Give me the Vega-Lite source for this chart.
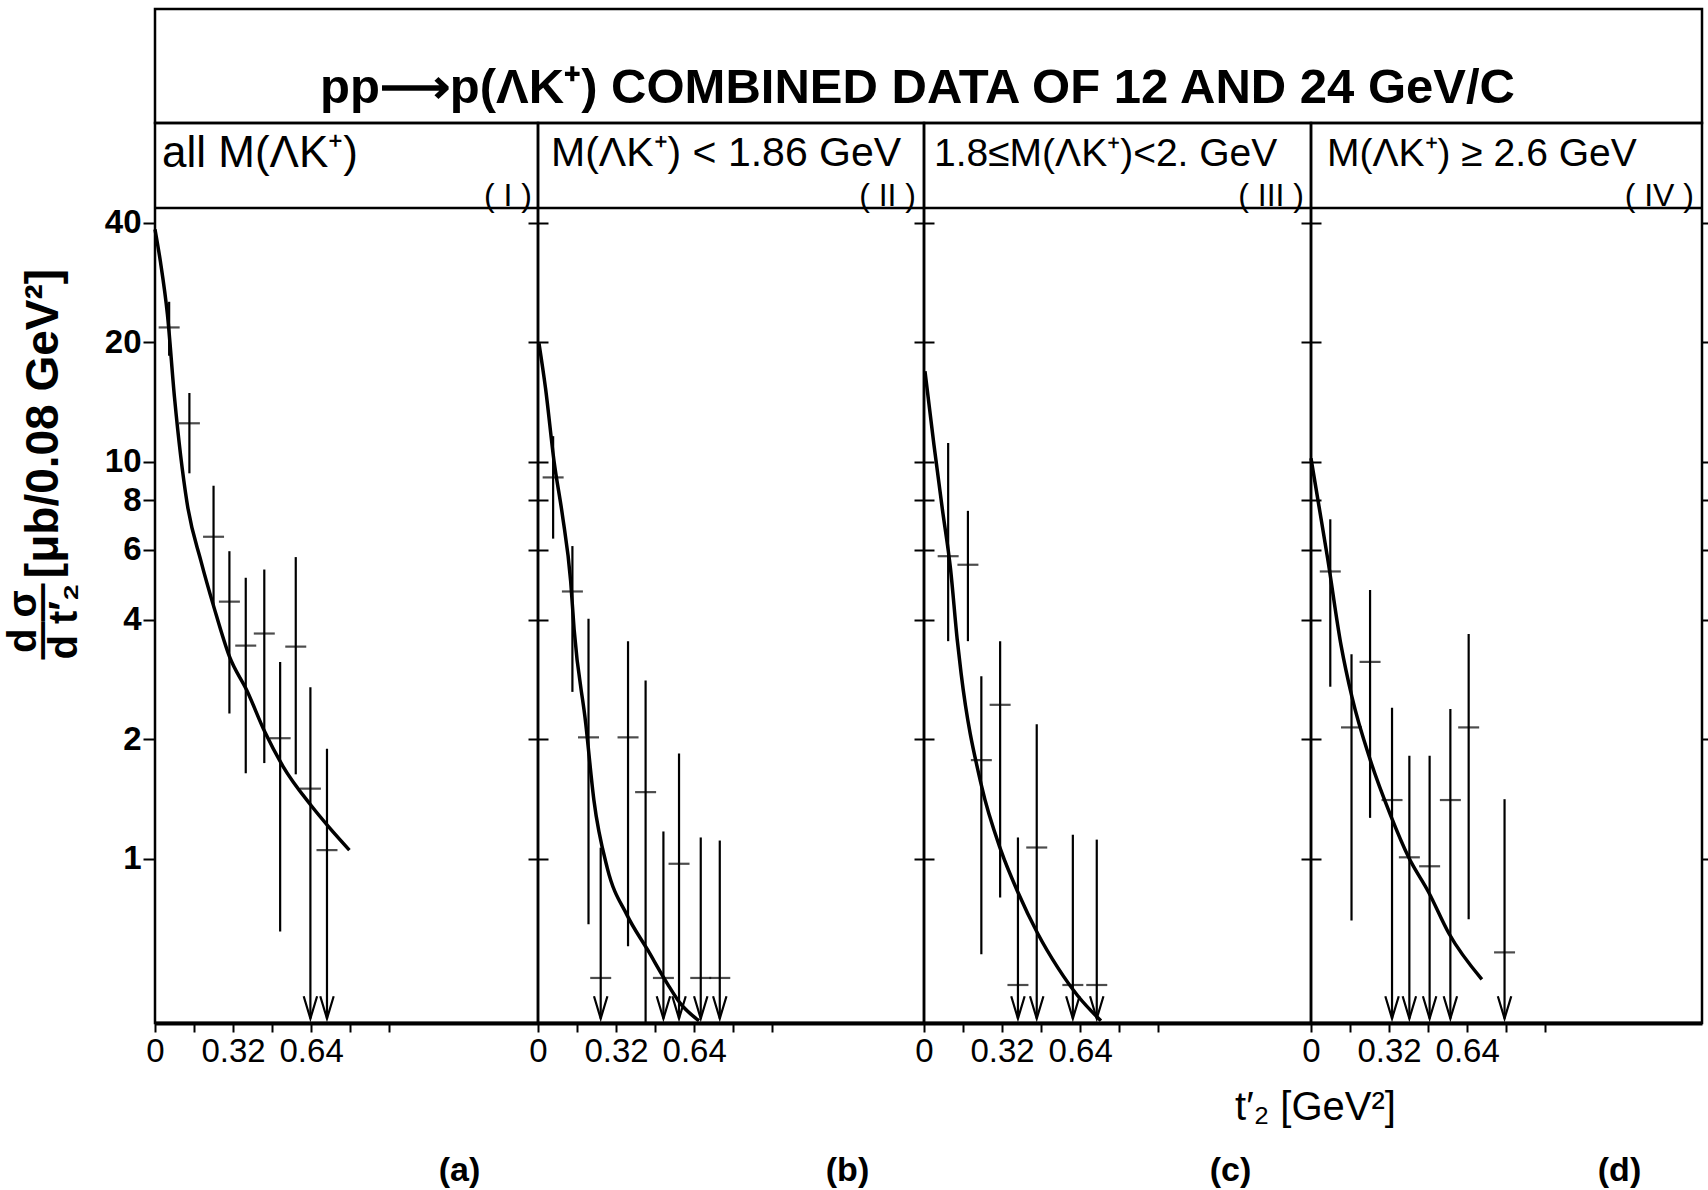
{
  "$schema": "https://vega.github.io/schema/vega-lite/v6.json",
  "background": "white",
  "padding": {"left": 1, "top": 7, "right": 0, "bottom": 0},
  "config": {
    "font": "Liberation Sans",
    "axis": {"labelColor": "black", "titleColor": "black", "tickColor": "black", "domainColor": "black", "grid": false},
    "text": {"color": "black"}
  },
  "datasets": {
    "points": [
      {"panel": "a", "t": 0.058, "val": 21.8, "lo": 18.5, "hi": 25.3, "limit": false},
      {"panel": "a", "t": 0.141, "val": 12.5, "lo": 9.35, "hi": 14.9, "limit": false},
      {"panel": "a", "t": 0.240, "val": 6.47, "lo": 4.3, "hi": 8.7, "limit": false},
      {"panel": "a", "t": 0.305, "val": 4.44, "lo": 2.32, "hi": 5.95, "limit": false},
      {"panel": "a", "t": 0.372, "val": 3.44, "lo": 1.64, "hi": 5.1, "limit": false},
      {"panel": "a", "t": 0.448, "val": 3.69, "lo": 1.74, "hi": 5.35, "limit": false},
      {"panel": "a", "t": 0.513, "val": 2.01, "lo": 0.655, "hi": 3.13, "limit": false},
      {"panel": "a", "t": 0.577, "val": 3.42, "lo": 1.63, "hi": 5.75, "limit": false},
      {"panel": "a", "t": 0.637, "val": 1.50, "lo": null, "hi": 2.70, "limit": true},
      {"panel": "a", "t": 0.705, "val": 1.05, "lo": null, "hi": 1.89, "limit": true},
      {"panel": "b", "t": 0.062, "val": 9.13, "lo": 6.4, "hi": 11.6, "limit": false},
      {"panel": "b", "t": 0.141, "val": 4.71, "lo": 2.63, "hi": 6.13, "limit": false},
      {"panel": "b", "t": 0.207, "val": 2.02, "lo": 0.683, "hi": 4.02, "limit": false},
      {"panel": "b", "t": 0.257, "val": 0.50, "lo": null, "hi": 1.065, "limit": true},
      {"panel": "b", "t": 0.369, "val": 2.02, "lo": 0.601, "hi": 3.53, "limit": false},
      {"panel": "b", "t": 0.441, "val": 1.47, "lo": 0.3, "hi": 2.81, "limit": false},
      {"panel": "b", "t": 0.514, "val": 0.50, "lo": null, "hi": 1.17, "limit": true},
      {"panel": "b", "t": 0.578, "val": 0.97, "lo": null, "hi": 1.84, "limit": true},
      {"panel": "b", "t": 0.667, "val": 0.50, "lo": null, "hi": 1.13, "limit": true},
      {"panel": "b", "t": 0.745, "val": 0.50, "lo": null, "hi": 1.11, "limit": true},
      {"panel": "c", "t": 0.099, "val": 5.78, "lo": 3.53, "hi": 11.15, "limit": false},
      {"panel": "c", "t": 0.180, "val": 5.5, "lo": 3.53, "hi": 7.52, "limit": false},
      {"panel": "c", "t": 0.235, "val": 1.77, "lo": 0.574, "hi": 2.88, "limit": false},
      {"panel": "c", "t": 0.312, "val": 2.44, "lo": 0.798, "hi": 3.53, "limit": false},
      {"panel": "c", "t": 0.385, "val": 0.48, "lo": null, "hi": 1.13, "limit": true},
      {"panel": "c", "t": 0.462, "val": 1.066, "lo": null, "hi": 2.18, "limit": true},
      {"panel": "c", "t": 0.610, "val": 0.48, "lo": null, "hi": 1.148, "limit": true},
      {"panel": "c", "t": 0.708, "val": 0.48, "lo": null, "hi": 1.116, "limit": true},
      {"panel": "d", "t": 0.079, "val": 5.29, "lo": 2.71, "hi": 7.16, "limit": false},
      {"panel": "d", "t": 0.166, "val": 2.14, "lo": 0.698, "hi": 3.27, "limit": false},
      {"panel": "d", "t": 0.242, "val": 3.13, "lo": 1.266, "hi": 4.75, "limit": false},
      {"panel": "d", "t": 0.332, "val": 1.404, "lo": null, "hi": 2.40, "limit": true},
      {"panel": "d", "t": 0.403, "val": 1.007, "lo": null, "hi": 1.815, "limit": true},
      {"panel": "d", "t": 0.486, "val": 0.956, "lo": null, "hi": 1.815, "limit": true},
      {"panel": "d", "t": 0.571, "val": 1.404, "lo": null, "hi": 2.38, "limit": true},
      {"panel": "d", "t": 0.646, "val": 2.14, "lo": 0.703, "hi": 3.68, "limit": false},
      {"panel": "d", "t": 0.793, "val": 0.58, "lo": null, "hi": 1.411, "limit": true}
    ],
    "curves": [
      {"panel": "a", "t": 0.0, "val": 38.5},
      {"panel": "a", "t": 0.022, "val": 32.0},
      {"panel": "a", "t": 0.051, "val": 23.5},
      {"panel": "a", "t": 0.08, "val": 14.5},
      {"panel": "a", "t": 0.131, "val": 7.9},
      {"panel": "a", "t": 0.189, "val": 5.6},
      {"panel": "a", "t": 0.243, "val": 4.27},
      {"panel": "a", "t": 0.305, "val": 3.23},
      {"panel": "a", "t": 0.378, "val": 2.64},
      {"panel": "a", "t": 0.451, "val": 2.08},
      {"panel": "a", "t": 0.524, "val": 1.71},
      {"panel": "a", "t": 0.64, "val": 1.36},
      {"panel": "a", "t": 0.713, "val": 1.2},
      {"panel": "a", "t": 0.797, "val": 1.05},
      {"panel": "b", "t": 0.004, "val": 19.9},
      {"panel": "b", "t": 0.031, "val": 15.3},
      {"panel": "b", "t": 0.066, "val": 10.0},
      {"panel": "b", "t": 0.1, "val": 7.34},
      {"panel": "b", "t": 0.134, "val": 4.99},
      {"panel": "b", "t": 0.148, "val": 3.78},
      {"panel": "b", "t": 0.196, "val": 2.18},
      {"panel": "b", "t": 0.229, "val": 1.405},
      {"panel": "b", "t": 0.284, "val": 0.946},
      {"panel": "b", "t": 0.366, "val": 0.718},
      {"panel": "b", "t": 0.449, "val": 0.589},
      {"panel": "b", "t": 0.53, "val": 0.484},
      {"panel": "b", "t": 0.585, "val": 0.43},
      {"panel": "b", "t": 0.66, "val": 0.39},
      {"panel": "c", "t": 0.004, "val": 16.9},
      {"panel": "c", "t": 0.041, "val": 11.0},
      {"panel": "c", "t": 0.075, "val": 7.61},
      {"panel": "c", "t": 0.109, "val": 5.35},
      {"panel": "c", "t": 0.136, "val": 3.57},
      {"panel": "c", "t": 0.152, "val": 2.93},
      {"panel": "c", "t": 0.235, "val": 1.53},
      {"panel": "c", "t": 0.316, "val": 1.045},
      {"panel": "c", "t": 0.385, "val": 0.822},
      {"panel": "c", "t": 0.466, "val": 0.647},
      {"panel": "c", "t": 0.549, "val": 0.53},
      {"panel": "c", "t": 0.63, "val": 0.451},
      {"panel": "c", "t": 0.725, "val": 0.39},
      {"panel": "d", "t": 0.0, "val": 10.2},
      {"panel": "d", "t": 0.034, "val": 7.64},
      {"panel": "d", "t": 0.068, "val": 5.71},
      {"panel": "d", "t": 0.123, "val": 3.45},
      {"panel": "d", "t": 0.168, "val": 2.55},
      {"panel": "d", "t": 0.243, "val": 1.77},
      {"panel": "d", "t": 0.325, "val": 1.29},
      {"panel": "d", "t": 0.4, "val": 1.007},
      {"panel": "d", "t": 0.482, "val": 0.822},
      {"panel": "d", "t": 0.564, "val": 0.649},
      {"panel": "d", "t": 0.7, "val": 0.496}
    ],
    "headers": [
      {"panel": "a", "label": "all M(ΛK⁺)", "roman": "( I )"},
      {"panel": "b", "label": "M(ΛK⁺) < 1.86 GeV", "roman": "( II )"},
      {"panel": "c", "label": "1.8≤M(ΛK⁺)<2. GeV", "roman": "( III )"},
      {"panel": "d", "label": "M(ΛK⁺) ≥ 2.6 GeV", "roman": "( IV )"}
    ],
    "maintitle": [
      {"title": "pp⟶p(ΛK⁺) COMBINED DATA OF 12 AND 24 GeV/C"}
    ]
  },
  "vconcat": [
    {
      "width": 1547,
      "height": 114,
      "view": {"stroke": "black", "strokeWidth": 2.5},
      "data": {"name": "maintitle"},
      "mark": {"type": "text", "fontSize": 49, "fontWeight": "bold", "dx": -11, "dy": 22, "align": "center", "baseline": "middle", "color": "black"},
      "encoding": {"text": {"field": "title"}}
    },
    {
      "hconcat": [
        {
          "width": 383,
          "height": 900,
          "view": {"stroke": "black", "strokeWidth": 2.5},
          "resolve": {"axis": {"y": "independent", "x": "independent"}},
          "layer": [
            {
              "data": {"name": "points"},
              "transform": [{"filter": "datum.panel == 'a' && !datum.limit"}],
              "mark": {"type": "rule", "color": "black", "strokeWidth": 2.2, "clip": true},
              "encoding": {
                "x": {"field": "t", "type": "quantitative", "scale": {"domain": [0, 1.570], "nice": false, "zero": false},
                  "axis": {"values": [0, 0.16, 0.32, 0.48, 0.64, 0.8, 0.96], "labelExpr": "datum.value == 0 ? '0' : (abs(datum.value - 0.32) < 0.001 || abs(datum.value - 0.64) < 0.001) ? format(datum.value, '.2f') : ''", "tickSize": 9, "tickWidth": 2, "domainWidth": 4, "labelFontSize": 33, "labelPadding": 3, "labelOverlap": false, "labelFlush": false, "labelBound": false, "title": "(a)", "titleX": 304, "titleY": 147, "titleFontSize": 34, "titleFontWeight": "bold", "titleAlign": "center", "titleBaseline": "middle"}},
                "y": {"field": "lo", "type": "quantitative", "scale": {"type": "log", "domain": [0.385, 71.4], "nice": false},
                  "axis": {"orient": "left", "values": [1, 2, 4, 6, 8, 10, 20, 40], "format": "d", "tickSize": 12, "tickWidth": 2, "domain": false, "labelFontSize": 33, "labelFontWeight": "bold", "labelPadding": 2, "title": "[μb/0.08 GeV²]", "titleX": -112, "titleY": 300, "titleAngle": 270, "titleFontSize": 46, "titleFontWeight": "bold", "titleAlign": "center", "titleBaseline": "middle"}},
                "y2": {"field": "hi"}
              }
            },
            {
              "data": {"name": "points"},
              "transform": [{"filter": "datum.panel == 'a'"}],
              "mark": {"type": "tick", "orient": "horizontal", "color": "black", "size": 21, "thickness": 2.2},
              "encoding": {
                "x": {"field": "t", "type": "quantitative", "scale": {"domain": [0, 1.570], "nice": false, "zero": false}, "axis": null},
                "y": {"field": "val", "type": "quantitative", "scale": {"type": "log", "domain": [0.385, 71.4], "nice": false},
                  "axis": {"orient": "right", "values": [1, 2, 4, 6, 8, 10, 20, 40], "labels": false, "tickSize": 10, "tickWidth": 2, "domain": false, "title": null}}
              }
            },
            {
              "data": {"name": "points"},
              "transform": [{"filter": "datum.panel == 'a' && datum.limit"}],
              "mark": {"type": "rule", "color": "black", "strokeWidth": 2.2},
              "encoding": {
                "x": {"field": "t", "type": "quantitative", "scale": {"domain": [0, 1.570], "nice": false, "zero": false}, "axis": null},
                "y": {"field": "hi", "type": "quantitative", "scale": {"type": "log", "domain": [0.385, 71.4], "nice": false},
                  "axis": {"orient": "left", "labels": false, "ticks": false, "domain": false, "title": ["d σ", "d t′₂"], "titleX": -132, "titleY": 498, "titleAngle": 270, "titleFontSize": 40, "titleFontWeight": "bold", "titleLineHeight": 41, "titleAlign": "center", "titleBaseline": "middle"}},
                "y2": {"datum": 0.395}
              }
            },
            {
              "data": {"name": "points"},
              "transform": [{"filter": "datum.panel == 'a' && datum.limit"}],
              "mark": {"type": "point", "shape": "M-0.6,-2L0,0L0.6,-2", "size": 500, "filled": false, "stroke": "black", "strokeWidth": 2.2, "opacity": 1},
              "encoding": {
                "x": {"field": "t", "type": "quantitative", "scale": {"domain": [0, 1.570], "nice": false, "zero": false}, "axis": null},
                "y": {"datum": 0.395, "type": "quantitative", "scale": {"type": "log", "domain": [0.385, 71.4], "nice": false}, "axis": null}
              }
            },
            {
              "data": {"name": "curves"},
              "transform": [{"filter": "datum.panel == 'a'"}],
              "mark": {"type": "line", "color": "black", "strokeWidth": 3.5, "interpolate": "monotone"},
              "encoding": {
                "x": {"field": "t", "type": "quantitative", "scale": {"domain": [0, 1.570], "nice": false, "zero": false}, "axis": null},
                "y": {"field": "val", "type": "quantitative", "scale": {"type": "log", "domain": [0.385, 71.4], "nice": false},
                  "axis": {"orient": "left", "labels": false, "ticks": false, "domain": false, "title": "——", "titleX": -113, "titleY": 498, "titleAngle": 270, "titleFontSize": 38, "titleFontWeight": "bold", "titleAlign": "center", "titleBaseline": "middle"}}
              }
            },
            {
              "data": {"name": "headers"},
              "transform": [{"filter": "datum.panel == 'a'"}],
              "mark": {"type": "rule", "color": "black", "strokeWidth": 2.5},
              "encoding": {
                "y": {"datum": 43.6, "type": "quantitative", "scale": {"type": "log", "domain": [0.385, 71.4], "nice": false}, "axis": null}
              }
            },
            {
              "data": {"name": "headers"},
              "transform": [{"filter": "datum.panel == 'a'"}],
              "mark": {"type": "text", "align": "left", "baseline": "middle", "dx": 7, "fontSize": 44, "color": "black"},
              "encoding": {
                "x": {"datum": 0, "type": "quantitative", "scale": {"domain": [0, 1.570], "nice": false, "zero": false}, "axis": null},
                "y": {"datum": 59.7, "type": "quantitative", "scale": {"type": "log", "domain": [0.385, 71.4], "nice": false}, "axis": null},
                "text": {"field": "label"}
              }
            },
            {
              "data": {"name": "headers"},
              "transform": [{"filter": "datum.panel == 'a'"}],
              "mark": {"type": "text", "align": "right", "baseline": "middle", "dx": -6, "fontSize": 32, "color": "black"},
              "encoding": {
                "x": {"datum": 1.570, "type": "quantitative", "scale": {"domain": [0, 1.570], "nice": false, "zero": false}, "axis": null},
                "y": {"datum": 46.7, "type": "quantitative", "scale": {"type": "log", "domain": [0.385, 71.4], "nice": false}, "axis": null},
                "text": {"field": "roman"}
              }
            }
          ]
        },
        {
          "width": 386,
          "height": 900,
          "view": {"stroke": "black", "strokeWidth": 2.5},
          "resolve": {"axis": {"y": "independent", "x": "independent"}},
          "layer": [
            {
              "data": {"name": "points"},
              "transform": [{"filter": "datum.panel == 'b' && !datum.limit"}],
              "mark": {"type": "rule", "color": "black", "strokeWidth": 2.2, "clip": true},
              "encoding": {
                "x": {"field": "t", "type": "quantitative", "scale": {"domain": [0, 1.582], "nice": false, "zero": false},
                  "axis": {"values": [0, 0.16, 0.32, 0.48, 0.64, 0.8, 0.96], "labelExpr": "datum.value == 0 ? '0' : (abs(datum.value - 0.32) < 0.001 || abs(datum.value - 0.64) < 0.001) ? format(datum.value, '.2f') : ''", "tickSize": 9, "tickWidth": 2, "domainWidth": 4, "labelFontSize": 33, "labelPadding": 3, "labelOverlap": false, "labelFlush": false, "labelBound": false, "title": "(b)", "titleX": 309, "titleY": 147, "titleFontSize": 34, "titleFontWeight": "bold", "titleAlign": "center", "titleBaseline": "middle"}},
                "y": {"field": "lo", "type": "quantitative", "scale": {"type": "log", "domain": [0.385, 71.4], "nice": false},
                  "axis": {"orient": "left", "values": [1, 2, 4, 6, 8, 10, 20, 40], "labels": false, "tickSize": 10, "tickWidth": 2, "domain": false, "title": null}},
                "y2": {"field": "hi"}
              }
            },
            {
              "data": {"name": "points"},
              "transform": [{"filter": "datum.panel == 'b'"}],
              "mark": {"type": "tick", "orient": "horizontal", "color": "black", "size": 21, "thickness": 2.2},
              "encoding": {
                "x": {"field": "t", "type": "quantitative", "scale": {"domain": [0, 1.582], "nice": false, "zero": false}, "axis": null},
                "y": {"field": "val", "type": "quantitative", "scale": {"type": "log", "domain": [0.385, 71.4], "nice": false},
                  "axis": {"orient": "right", "values": [1, 2, 4, 6, 8, 10, 20, 40], "labels": false, "tickSize": 10, "tickWidth": 2, "domain": false, "title": null}}
              }
            },
            {
              "data": {"name": "points"},
              "transform": [{"filter": "datum.panel == 'b' && datum.limit"}],
              "mark": {"type": "rule", "color": "black", "strokeWidth": 2.2},
              "encoding": {
                "x": {"field": "t", "type": "quantitative", "scale": {"domain": [0, 1.582], "nice": false, "zero": false}, "axis": null},
                "y": {"field": "hi", "type": "quantitative", "scale": {"type": "log", "domain": [0.385, 71.4], "nice": false}, "axis": null},
                "y2": {"datum": 0.395}
              }
            },
            {
              "data": {"name": "points"},
              "transform": [{"filter": "datum.panel == 'b' && datum.limit"}],
              "mark": {"type": "point", "shape": "M-0.6,-2L0,0L0.6,-2", "size": 500, "filled": false, "stroke": "black", "strokeWidth": 2.2, "opacity": 1},
              "encoding": {
                "x": {"field": "t", "type": "quantitative", "scale": {"domain": [0, 1.582], "nice": false, "zero": false}, "axis": null},
                "y": {"datum": 0.395, "type": "quantitative", "scale": {"type": "log", "domain": [0.385, 71.4], "nice": false}, "axis": null}
              }
            },
            {
              "data": {"name": "curves"},
              "transform": [{"filter": "datum.panel == 'b'"}],
              "mark": {"type": "line", "color": "black", "strokeWidth": 3.5, "interpolate": "monotone"},
              "encoding": {
                "x": {"field": "t", "type": "quantitative", "scale": {"domain": [0, 1.582], "nice": false, "zero": false}, "axis": null},
                "y": {"field": "val", "type": "quantitative", "scale": {"type": "log", "domain": [0.385, 71.4], "nice": false}, "axis": null}
              }
            },
            {
              "data": {"name": "headers"},
              "transform": [{"filter": "datum.panel == 'b'"}],
              "mark": {"type": "rule", "color": "black", "strokeWidth": 2.5},
              "encoding": {
                "y": {"datum": 43.6, "type": "quantitative", "scale": {"type": "log", "domain": [0.385, 71.4], "nice": false}, "axis": null}
              }
            },
            {
              "data": {"name": "headers"},
              "transform": [{"filter": "datum.panel == 'b'"}],
              "mark": {"type": "text", "align": "left", "baseline": "middle", "dx": 13, "fontSize": 41, "color": "black"},
              "encoding": {
                "x": {"datum": 0, "type": "quantitative", "scale": {"domain": [0, 1.582], "nice": false, "zero": false}, "axis": null},
                "y": {"datum": 59.7, "type": "quantitative", "scale": {"type": "log", "domain": [0.385, 71.4], "nice": false}, "axis": null},
                "text": {"field": "label"}
              }
            },
            {
              "data": {"name": "headers"},
              "transform": [{"filter": "datum.panel == 'b'"}],
              "mark": {"type": "text", "align": "right", "baseline": "middle", "dx": -8, "fontSize": 32, "color": "black"},
              "encoding": {
                "x": {"datum": 1.582, "type": "quantitative", "scale": {"domain": [0, 1.582], "nice": false, "zero": false}, "axis": null},
                "y": {"datum": 46.7, "type": "quantitative", "scale": {"type": "log", "domain": [0.385, 71.4], "nice": false}, "axis": null},
                "text": {"field": "roman"}
              }
            }
          ]
        },
        {
          "width": 387,
          "height": 900,
          "view": {"stroke": "black", "strokeWidth": 2.5},
          "resolve": {"axis": {"y": "independent", "x": "independent"}},
          "layer": [
            {
              "data": {"name": "points"},
              "transform": [{"filter": "datum.panel == 'c' && !datum.limit"}],
              "mark": {"type": "rule", "color": "black", "strokeWidth": 2.2, "clip": true},
              "encoding": {
                "x": {"field": "t", "type": "quantitative", "scale": {"domain": [0, 1.586], "nice": false, "zero": false},
                  "axis": {"values": [0, 0.16, 0.32, 0.48, 0.64, 0.8, 0.96], "labelExpr": "datum.value == 0 ? '0' : (abs(datum.value - 0.32) < 0.001 || abs(datum.value - 0.64) < 0.001) ? format(datum.value, '.2f') : ''", "tickSize": 9, "tickWidth": 2, "domainWidth": 4, "labelFontSize": 33, "labelPadding": 3, "labelOverlap": false, "labelFlush": false, "labelBound": false, "title": "(c)", "titleX": 306, "titleY": 147, "titleFontSize": 34, "titleFontWeight": "bold", "titleAlign": "center", "titleBaseline": "middle"}},
                "y": {"field": "lo", "type": "quantitative", "scale": {"type": "log", "domain": [0.385, 71.4], "nice": false},
                  "axis": {"orient": "left", "values": [1, 2, 4, 6, 8, 10, 20, 40], "labels": false, "tickSize": 10, "tickWidth": 2, "domain": false, "title": null}},
                "y2": {"field": "hi"}
              }
            },
            {
              "data": {"name": "points"},
              "transform": [{"filter": "datum.panel == 'c'"}],
              "mark": {"type": "tick", "orient": "horizontal", "color": "black", "size": 21, "thickness": 2.2},
              "encoding": {
                "x": {"field": "t", "type": "quantitative", "scale": {"domain": [0, 1.586], "nice": false, "zero": false}, "axis": null},
                "y": {"field": "val", "type": "quantitative", "scale": {"type": "log", "domain": [0.385, 71.4], "nice": false},
                  "axis": {"orient": "right", "values": [1, 2, 4, 6, 8, 10, 20, 40], "labels": false, "tickSize": 10, "tickWidth": 2, "domain": false, "title": null}}
              }
            },
            {
              "data": {"name": "points"},
              "transform": [{"filter": "datum.panel == 'c' && datum.limit"}],
              "mark": {"type": "rule", "color": "black", "strokeWidth": 2.2},
              "encoding": {
                "x": {"field": "t", "type": "quantitative", "scale": {"domain": [0, 1.586], "nice": false, "zero": false}, "axis": null},
                "y": {"field": "hi", "type": "quantitative", "scale": {"type": "log", "domain": [0.385, 71.4], "nice": false}, "axis": null},
                "y2": {"datum": 0.395}
              }
            },
            {
              "data": {"name": "points"},
              "transform": [{"filter": "datum.panel == 'c' && datum.limit"}],
              "mark": {"type": "point", "shape": "M-0.6,-2L0,0L0.6,-2", "size": 500, "filled": false, "stroke": "black", "strokeWidth": 2.2, "opacity": 1},
              "encoding": {
                "x": {"field": "t", "type": "quantitative", "scale": {"domain": [0, 1.586], "nice": false, "zero": false}, "axis": null},
                "y": {"datum": 0.395, "type": "quantitative", "scale": {"type": "log", "domain": [0.385, 71.4], "nice": false}, "axis": null}
              }
            },
            {
              "data": {"name": "curves"},
              "transform": [{"filter": "datum.panel == 'c'"}],
              "mark": {"type": "line", "color": "black", "strokeWidth": 3.5, "interpolate": "monotone"},
              "encoding": {
                "x": {"field": "t", "type": "quantitative", "scale": {"domain": [0, 1.586], "nice": false, "zero": false}, "axis": null},
                "y": {"field": "val", "type": "quantitative", "scale": {"type": "log", "domain": [0.385, 71.4], "nice": false}, "axis": null}
              }
            },
            {
              "data": {"name": "headers"},
              "transform": [{"filter": "datum.panel == 'c'"}],
              "mark": {"type": "rule", "color": "black", "strokeWidth": 2.5},
              "encoding": {
                "y": {"datum": 43.6, "type": "quantitative", "scale": {"type": "log", "domain": [0.385, 71.4], "nice": false}, "axis": null}
              }
            },
            {
              "data": {"name": "headers"},
              "transform": [{"filter": "datum.panel == 'c'"}],
              "mark": {"type": "text", "align": "left", "baseline": "middle", "dx": 10, "fontSize": 39, "color": "black"},
              "encoding": {
                "x": {"datum": 0, "type": "quantitative", "scale": {"domain": [0, 1.586], "nice": false, "zero": false}, "axis": null},
                "y": {"datum": 59.7, "type": "quantitative", "scale": {"type": "log", "domain": [0.385, 71.4], "nice": false}, "axis": null},
                "text": {"field": "label"}
              }
            },
            {
              "data": {"name": "headers"},
              "transform": [{"filter": "datum.panel == 'c'"}],
              "mark": {"type": "text", "align": "right", "baseline": "middle", "dx": -7, "fontSize": 32, "color": "black"},
              "encoding": {
                "x": {"datum": 1.586, "type": "quantitative", "scale": {"domain": [0, 1.586], "nice": false, "zero": false}, "axis": null},
                "y": {"datum": 46.7, "type": "quantitative", "scale": {"type": "log", "domain": [0.385, 71.4], "nice": false}, "axis": null},
                "text": {"field": "roman"}
              }
            }
          ]
        },
        {
          "width": 391,
          "height": 900,
          "view": {"stroke": "black", "strokeWidth": 2.5},
          "resolve": {"axis": {"y": "independent", "x": "independent"}},
          "layer": [
            {
              "data": {"name": "points"},
              "transform": [{"filter": "datum.panel == 'd' && !datum.limit"}],
              "mark": {"type": "rule", "color": "black", "strokeWidth": 2.2, "clip": true},
              "encoding": {
                "x": {"field": "t", "type": "quantitative", "scale": {"domain": [0, 1.602], "nice": false, "zero": false},
                  "axis": {"values": [0, 0.16, 0.32, 0.48, 0.64, 0.8, 0.96], "labelExpr": "datum.value == 0 ? '0' : (abs(datum.value - 0.32) < 0.001 || abs(datum.value - 0.64) < 0.001) ? format(datum.value, '.2f') : ''", "tickSize": 9, "tickWidth": 2, "domainWidth": 4, "labelFontSize": 33, "labelPadding": 3, "labelOverlap": false, "labelFlush": false, "labelBound": false, "title": "(d)", "titleX": 308, "titleY": 147, "titleFontSize": 34, "titleFontWeight": "bold", "titleAlign": "center", "titleBaseline": "middle"}},
                "y": {"field": "lo", "type": "quantitative", "scale": {"type": "log", "domain": [0.385, 71.4], "nice": false},
                  "axis": {"orient": "left", "values": [1, 2, 4, 6, 8, 10, 20, 40], "labels": false, "tickSize": 10, "tickWidth": 2, "domain": false, "title": null}},
                "y2": {"field": "hi"}
              }
            },
            {
              "data": {"name": "points"},
              "transform": [{"filter": "datum.panel == 'd'"}],
              "mark": {"type": "tick", "orient": "horizontal", "color": "black", "size": 21, "thickness": 2.2},
              "encoding": {
                "x": {"field": "t", "type": "quantitative", "scale": {"domain": [0, 1.602], "nice": false, "zero": false},
                  "axis": {"orient": "bottom", "labels": false, "ticks": false, "domain": false, "title": "t′₂  [GeV²]", "titleX": 4, "titleY": 84, "titleFontSize": 40, "titleFontWeight": "normal", "titleAlign": "center", "titleBaseline": "middle"}},
                "y": {"field": "val", "type": "quantitative", "scale": {"type": "log", "domain": [0.385, 71.4], "nice": false},
                  "axis": {"orient": "right", "values": [1, 2, 4, 6, 8, 10, 20, 40], "labels": false, "tickSize": 6, "tickWidth": 2, "domain": false, "title": null}}
              }
            },
            {
              "data": {"name": "points"},
              "transform": [{"filter": "datum.panel == 'd' && datum.limit"}],
              "mark": {"type": "rule", "color": "black", "strokeWidth": 2.2},
              "encoding": {
                "x": {"field": "t", "type": "quantitative", "scale": {"domain": [0, 1.602], "nice": false, "zero": false}, "axis": null},
                "y": {"field": "hi", "type": "quantitative", "scale": {"type": "log", "domain": [0.385, 71.4], "nice": false}, "axis": null},
                "y2": {"datum": 0.395}
              }
            },
            {
              "data": {"name": "points"},
              "transform": [{"filter": "datum.panel == 'd' && datum.limit"}],
              "mark": {"type": "point", "shape": "M-0.6,-2L0,0L0.6,-2", "size": 500, "filled": false, "stroke": "black", "strokeWidth": 2.2, "opacity": 1},
              "encoding": {
                "x": {"field": "t", "type": "quantitative", "scale": {"domain": [0, 1.602], "nice": false, "zero": false}, "axis": null},
                "y": {"datum": 0.395, "type": "quantitative", "scale": {"type": "log", "domain": [0.385, 71.4], "nice": false}, "axis": null}
              }
            },
            {
              "data": {"name": "curves"},
              "transform": [{"filter": "datum.panel == 'd'"}],
              "mark": {"type": "line", "color": "black", "strokeWidth": 3.5, "interpolate": "monotone"},
              "encoding": {
                "x": {"field": "t", "type": "quantitative", "scale": {"domain": [0, 1.602], "nice": false, "zero": false}, "axis": null},
                "y": {"field": "val", "type": "quantitative", "scale": {"type": "log", "domain": [0.385, 71.4], "nice": false}, "axis": null}
              }
            },
            {
              "data": {"name": "headers"},
              "transform": [{"filter": "datum.panel == 'd'"}],
              "mark": {"type": "rule", "color": "black", "strokeWidth": 2.5},
              "encoding": {
                "y": {"datum": 43.6, "type": "quantitative", "scale": {"type": "log", "domain": [0.385, 71.4], "nice": false}, "axis": null}
              }
            },
            {
              "data": {"name": "headers"},
              "transform": [{"filter": "datum.panel == 'd'"}],
              "mark": {"type": "text", "align": "left", "baseline": "middle", "dx": 16, "fontSize": 39, "color": "black"},
              "encoding": {
                "x": {"datum": 0, "type": "quantitative", "scale": {"domain": [0, 1.602], "nice": false, "zero": false}, "axis": null},
                "y": {"datum": 59.7, "type": "quantitative", "scale": {"type": "log", "domain": [0.385, 71.4], "nice": false}, "axis": null},
                "text": {"field": "label"}
              }
            },
            {
              "data": {"name": "headers"},
              "transform": [{"filter": "datum.panel == 'd'"}],
              "mark": {"type": "text", "align": "right", "baseline": "middle", "dx": -8, "fontSize": 32, "color": "black"},
              "encoding": {
                "x": {"datum": 1.602, "type": "quantitative", "scale": {"domain": [0, 1.602], "nice": false, "zero": false}, "axis": null},
                "y": {"datum": 46.7, "type": "quantitative", "scale": {"type": "log", "domain": [0.385, 71.4], "nice": false}, "axis": null},
                "text": {"field": "roman"}
              }
            }
          ]
        }
      ],
      "spacing": 0,
      "bounds": "flush"
    }
  ],
  "spacing": 0,
  "bounds": "flush"
}
